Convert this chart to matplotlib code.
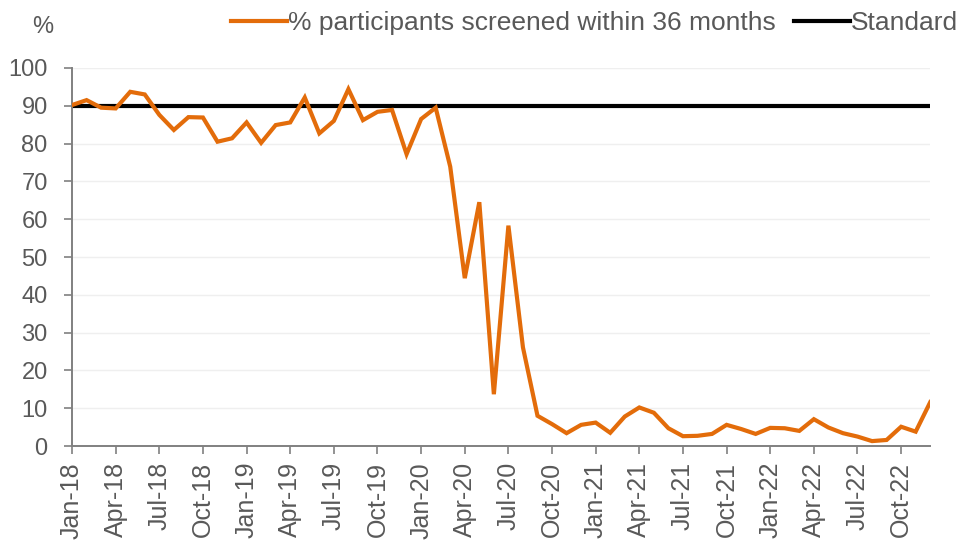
import matplotlib
matplotlib.use("Agg")
import matplotlib.pyplot as plt
import pandas as pd

plt.rcParams['font.family'] = ['Liberation Sans', 'DejaVu Sans']

# monthly values, Jan-18 .. Dec-22
screened = [
    90.2, 91.5, 89.5, 89.3, 93.7, 93.0, 87.6, 83.6, 87.0, 86.9, 80.5, 81.4,
    85.6, 80.2, 84.9, 85.6, 92.2, 82.7, 86.0, 94.4, 86.2, 88.4, 88.9, 77.2,
    86.5, 89.5, 73.9, 44.4, 64.5, 13.7, 58.3, 26.1, 8.0, 5.8, 3.4, 5.6,
    6.2, 3.5, 7.8, 10.2, 8.8, 4.7, 2.6, 2.7, 3.2, 5.6, 4.5, 3.2,
    4.8, 4.7, 4.0, 7.1, 4.9, 3.4, 2.5, 1.3, 1.6, 5.1, 3.8, 11.6,
]
standard = 90
months = pd.date_range("2018-01-01", periods=len(screened), freq="MS")
labels = [m.strftime("%b-%y") for m in months]

ORANGE = "#E36C0A"
GREY = "#595959"
AXIS = "#808080"

fig = plt.figure(figsize=(9.58, 5.43), dpi=100)
ax = fig.add_axes([0.0752, 0.1786, 0.8958, 0.6962])

x = list(range(len(screened)))
ax.plot(x, screened, color=ORANGE, lw=3.0, solid_joinstyle="miter",
        label="% participants screened within 36 months", zorder=3)
ax.plot(x, [standard] * len(x), color="black", lw=3.0,
        label="Standard", zorder=2)

ax.set_xlim(0, len(x) - 1)
ax.set_ylim(0, 100)
ax.set_yticks(range(0, 101, 10))
ax.set_xticks(x[::3])
ax.set_xticklabels(labels[::3], rotation=90)
ax.tick_params(axis="both", colors=GREY, length=5.5, width=1.2, color=AXIS)
ax.tick_params(axis="x", labelsize=18, pad=6)
ax.tick_params(axis="y", labelsize=17, pad=12)

ax.grid(axis="y", color="#EFEFEF", lw=1)
ax.set_axisbelow(True)
for side in ("top", "right"):
    ax.spines[side].set_visible(False)
for side in ("left", "bottom"):
    ax.spines[side].set_color(AXIS)
    ax.spines[side].set_linewidth(1.4)

fig.text(0.045, 0.950, "%", fontsize=17, color=GREY, ha="center", va="center")

leg = fig.legend(loc="center right", bbox_to_anchor=(1.0, 0.958), ncol=2,
                 frameon=False, fontsize=19, handlelength=2.1,
                 handletextpad=0.05, columnspacing=0.7,
                 borderaxespad=0, borderpad=0)
for t in leg.get_texts():
    t.set_color(GREY)

fig.savefig("out.png", dpi=100)
